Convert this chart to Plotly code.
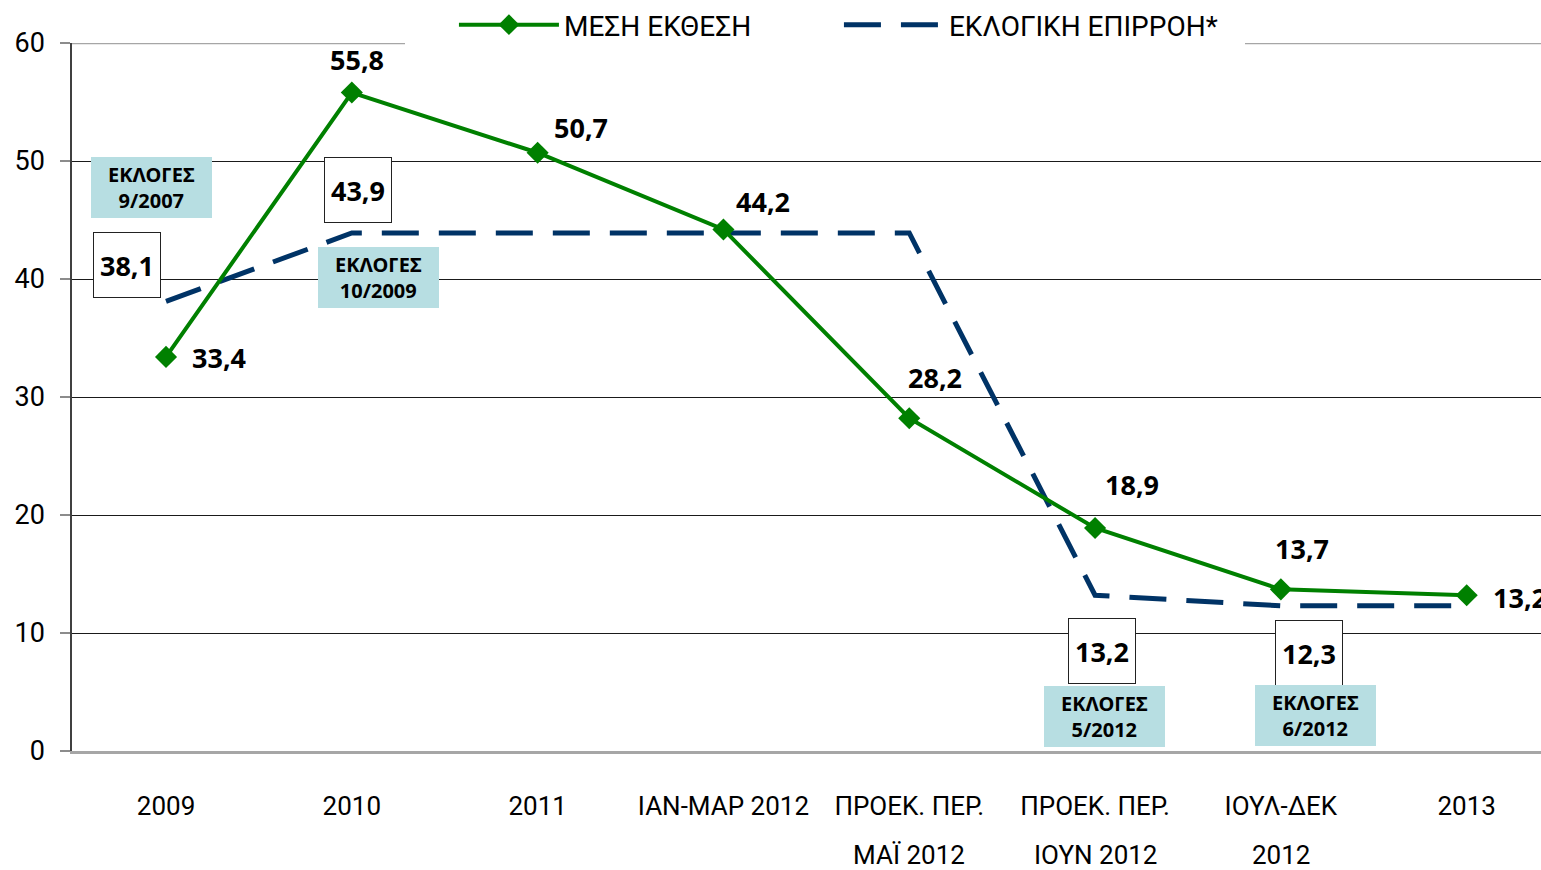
import plotly.graph_objects as go

# ---------------- data ----------------
categories = ["2009", "2010", "2011", "ΙΑΝ-ΜΑΡ 2012", "ΠΡΟΕΚ. ΠΕΡ. ΜΑΪ 2012",
              "ΠΡΟΕΚ. ΠΕΡ. ΙΟΥΝ 2012", "ΙΟΥΛ-ΔΕΚ 2012", "2013"]
tick_line1 = ["2009", "2010", "2011", "ΙΑΝ-ΜΑΡ 2012", "ΠΡΟΕΚ. ΠΕΡ.",
              "ΠΡΟΕΚ. ΠΕΡ.", "ΙΟΥΛ-ΔΕΚ", "2013"]
tick_line2 = ["", "", "", "", "ΜΑΪ 2012", "ΙΟΥΝ 2012", "2012", ""]
mesi_ekthesi = [33.4, 55.8, 50.7, 44.2, 28.2, 18.9, 13.7, 13.2]
eklogiki_epirroi = [38.1, 43.9, 43.9, 43.9, 43.9, 13.2, 12.3, 12.3]
boxed_idx = [0, 1, 5, 6]
election_labels = ["ΕΚΛΟΓΕΣ<br>9/2007", "ΕΚΛΟΓΕΣ<br>10/2009",
                   "ΕΚΛΟΓΕΣ<br>5/2012", "ΕΚΛΟΓΕΣ<br>6/2012"]
y_ticks = [0, 10, 20, 30, 40, 50, 60]

# ---------------- styling / offsets ----------------
GREEN = "#008000"
NAVY = "#003366"
TEAL = "#B7DEE2"
TICK_FONT = "Roboto, Liberation Sans, sans-serif"
LEG_FONT = "Roboto, Liberation Sans, sans-serif"
BOLD_FONT = "Noto Sans, DejaVu Sans, sans-serif"

green_label_off = [(24, -1, "left"), (5, 33, "center"), (43, 25, "center"),
                   (40, 28, "center"), (26, 41, "center"), (37, 43, "center"),
                   (21, 41, "center"), (24, -2, "left")]
boxed_off = [(-39, 36), (6, 43), (7, -56), (28, -47)]
election_off = [(-15, 114), (27, -45), (9, -121), (35, -110)]

fmt = lambda v: f"{v:.1f}".replace(".", ",")
idx = list(range(len(categories)))

fig = go.Figure()

fig.add_trace(go.Scatter(
    x=categories, y=eklogiki_epirroi, mode="lines", name="ΕΚΛΟΓΙΚΗ ΕΠΙΡΡΟΗ*",
    line=dict(color=NAVY, width=5, dash="37px,20px"), legendrank=2,
    hoverinfo="skip"))
fig.add_trace(go.Scatter(
    x=categories, y=mesi_ekthesi, mode="lines+markers", name="ΜΕΣΗ ΕΚΘΕΣΗ",
    line=dict(color=GREEN, width=4),
    marker=dict(symbol="diamond", size=17, color=GREEN), legendrank=1,
    hoverinfo="skip"))

annotations = []
for i, v in enumerate(mesi_ekthesi):
    dx, dy, anc = green_label_off[i]
    annotations.append(dict(x=idx[i], y=v, xref="x", yref="y",
                            text=f"<b>{fmt(v)}</b>", showarrow=False,
                            xanchor=anc, yanchor="middle", xshift=dx, yshift=dy,
                            font=dict(family=BOLD_FONT, size=27, color="black")))
for k, i in enumerate(boxed_idx):
    dx, dy = boxed_off[k]
    annotations.append(dict(x=idx[i], y=eklogiki_epirroi[i], xref="x", yref="y",
                            text=f"<b>{fmt(eklogiki_epirroi[i])}</b>", showarrow=False,
                            xanchor="center", yanchor="middle", xshift=dx, yshift=dy,
                            width=64, height=62, borderpad=1, borderwidth=1,
                            bordercolor="#222222", bgcolor="white",
                            font=dict(family=BOLD_FONT, size=27, color="black")))
for k, i in enumerate(boxed_idx):
    dx, dy = election_off[k]
    annotations.append(dict(x=idx[i], y=eklogiki_epirroi[i], xref="x", yref="y",
                            text=f"<b>{election_labels[k]}</b>", showarrow=False,
                            xanchor="center", yanchor="middle", xshift=dx, yshift=dy,
                            width=119, height=59, borderpad=1, borderwidth=0,
                            bgcolor=TEAL,
                            font=dict(family=BOLD_FONT, size=20, color="black")))
for i, t in enumerate(tick_line2):
    if t:
        annotations.append(dict(x=idx[i], y=-0.1465, xref="x", yref="paper",
                                text=t, showarrow=False, xanchor="center",
                                yanchor="middle",
                                font=dict(family=TICK_FONT, size=26, color="black")))

shapes = [
    dict(type="line", xref="paper", yref="y", x0=0, x1=0.2267, y0=60, y1=60,
         line=dict(color="#a6a6a6", width=2.5), layer="between"),
    dict(type="line", xref="paper", yref="y", x0=0.2267, x1=0.7985, y0=60, y1=60,
         line=dict(color="white", width=3), layer="between"),
    dict(type="line", xref="paper", yref="y", x0=0.7985, x1=1, y0=60, y1=60,
         line=dict(color="#a6a6a6", width=2.5), layer="between"),
]

fig.update_layout(
    template="none",
    width=1541, height=870,
    margin=dict(l=72, r=0, t=43, b=119, pad=0),
    paper_bgcolor="white", plot_bgcolor="white",
    showlegend=True,
    legend=dict(orientation="h", x=0.26, xanchor="left", y=1.0607, yanchor="top",
                bgcolor="white", borderwidth=0, itemwidth=100, entrywidth=270,
                font=dict(family=LEG_FONT, size=28, color="black"),
                traceorder="normal"),
    xaxis=dict(type="category", categoryorder="array", categoryarray=categories,
               range=[-0.506, 7.40], tickvals=categories, ticktext=tick_line1,
               showgrid=False, zeroline=False, showline=True,
               linecolor="#a6a6a6", linewidth=3, ticks="",
               ticklabelstandoff=30,
               tickfont=dict(family=TICK_FONT, size=26, color="black")),
    yaxis=dict(range=[0, 60], tickvals=y_ticks, showgrid=True,
               gridcolor="#1a1a1a", gridwidth=1, zeroline=False,
               showline=True, linecolor="#404040", linewidth=1.5,
               ticks="outside", ticklen=10, tickcolor="#8c8c8c", tickwidth=2,
               ticklabelstandoff=10,
               tickfont=dict(family=TICK_FONT, size=27, color="black")),
    annotations=annotations,
    shapes=shapes,
)

fig.write_html("out.html", config={"displayModeBar": False},
               post_script="document.body.style.margin='0px'; document.body.style.overflow='hidden';")
